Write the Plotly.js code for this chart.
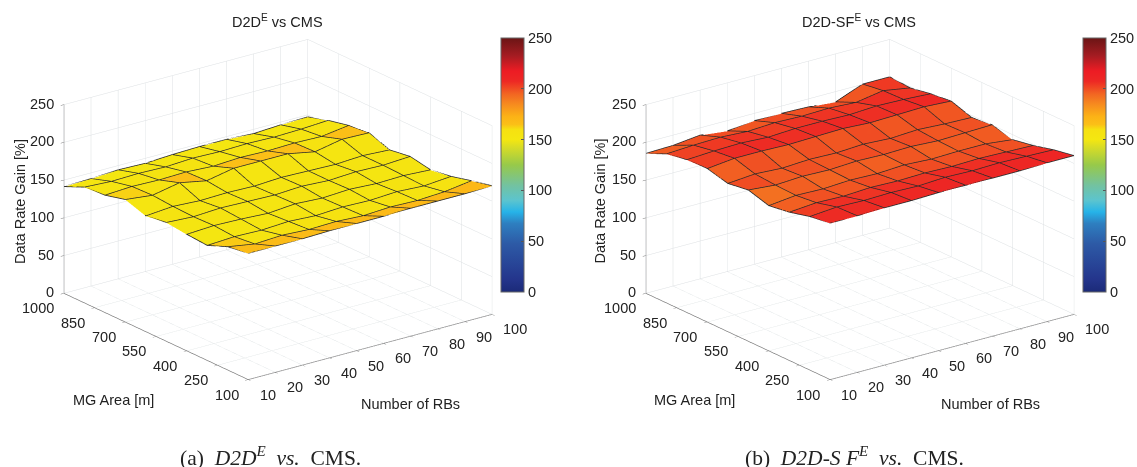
<!DOCTYPE html>
<html><head><meta charset="utf-8">
<script src="https://cdn.plot.ly/plotly-3.0.1.min.js"></script>
<style>html,body{margin:0;padding:0;background:#fff}#c{width:1137px;height:467px}</style></head>
<body><div id="c"></div>
<script>
const numberOfRBs=[10,20,30,40,50,60,70,80,90,100];
const mgArea=[100,200,300,400,500,600,700,800,900,1000];
const gainA=[
[167,167,167,168,168,168,169,169,169,170],
[163,157,159,157,158,156,158,157,159,164],
[152,154,153,155,153,155,154,156,154,157],
[154,156,155,153,156,154,156,154,155,153],
[157,155,157,156,155,157,155,157,156,158],
[153,156,154,155,154,156,155,154,156,154],
[162,158,165,158,165,165,165,158,165,164],
[155,157,156,157,155,157,156,157,156,161],
[153,151,152,151,153,152,153,152,153,155],
[141,142,144,143,145,146,146,144,146,147]];
const gainB=[
[207,207,208,208,209,209,209,209,210,210],
[203,206,205,206,205,207,206,207,206,205],
[196,199,198,200,199,200,199,200,199,198],
[192,196,195,197,196,198,196,197,197,193],
[200,197,199,198,200,199,200,198,199,200],
[196,199,197,199,198,200,198,200,198,197],
[203,207,207,206,207,208,206,207,208,206],
[202,204,205,203,205,205,204,206,205,203],
[197,199,200,198,200,199,200,198,204,198],
[185,186,190,186,190,190,189,186,200,200]];
const zTicks=[0,50,100,150,200,250];
const mgTicks=[100,250,400,550,700,850,1000];
const colorStops=[[0,'#1b2a78'],[0.05,'#24358c'],[0.19,'#2d5aa6'],[0.27,'#2e7fc0'],[0.315,'#26b3e8'],[0.36,'#5bc4cf'],[0.42,'#73c2a0'],[0.5,'#97c94a'],[0.57,'#d8dc26'],[0.6,'#f4e711'],[0.64,'#f6e111'],[0.66,'#fbbf17'],[0.69,'#fcb316'],[0.74,'#f68a1f'],[0.78,'#f26522'],[0.83,'#ed2824'],[0.87,'#ed1c24'],[0.93,'#a51c22'],[1,'#6b1515']];

function meshTrace(g,cbX,scene){
  const xs=[],ys=[],zs=[],I=[],J=[],K=[],C=[];
  g.forEach((row,i)=>row.forEach((v,j)=>{xs.push(numberOfRBs[j]);ys.push(mgArea[i]);zs.push(v);}));
  const n=numberOfRBs.length;
  for(let i=0;i<mgArea.length-1;i++)for(let j=0;j<n-1;j++){
    const a=i*n+j,b=a+1,c=a+n,d=c+1;
    I.push(a,a);J.push(b,d);K.push(d,c);C.push(g[i][j],g[i][j]);
  }
  return {type:'mesh3d',scene,x:xs,y:ys,z:zs,i:I,j:J,k:K,intensity:C,intensitymode:'cell',
    colorscale:colorStops,cmin:0,cmax:250,flatshading:true,hoverinfo:'skip',
    lighting:{ambient:1,diffuse:0,specular:0,roughness:1,fresnel:0},
    colorbar:{x:cbX,xanchor:'left',xref:'paper',y:1-38/467,yanchor:'top',yref:'paper',len:254/467,lenmode:'fraction',
      thickness:23,thicknessmode:'pixels',outlinecolor:'#666',outlinewidth:1,ticks:'inside',ticklen:3,tickcolor:'#555',
      tickvals:zTicks,ticktext:zTicks.map(String),tickfont:{family:'Liberation Sans',size:14.5,color:'#222'},xpad:0,ypad:0}};
}
function gridTrace(g,scene){
  const xs=[],ys=[],zs=[];
  g.forEach((row,i)=>{row.forEach((v,j)=>{xs.push(numberOfRBs[j]);ys.push(mgArea[i]);zs.push(v+0.4);});xs.push(null);ys.push(null);zs.push(null);});
  numberOfRBs.forEach((r,j)=>{mgArea.forEach((m,i)=>{xs.push(r);ys.push(m);zs.push(g[i][j]+0.4);});xs.push(null);ys.push(null);zs.push(null);});
  return {type:'scatter3d',scene,mode:'lines',x:xs,y:ys,z:zs,line:{color:'#2a2a2a',width:1.6},hoverinfo:'skip',showlegend:false};
}
const tickFont={family:'Liberation Sans',size:14.5,color:'#222'};
const axisBase={showbackground:false,gridcolor:'#dcdfe2',gridwidth:1,showline:true,linecolor:'#777',linewidth:1.5,zeroline:false,
  ticks:'outside',ticklen:4,tickcolor:'#777',showspikes:false,showticklabels:false,title:{text:''}};
function tickLabels(){
  const a=[];
  numberOfRBs.forEach(v=>a.push({x:v,y:100,z:0,text:String(v),showarrow:false,xanchor:'left',yanchor:'middle',xshift:9,yshift:-15,font:tickFont}));
  mgTicks.forEach(v=>a.push({x:10,y:v,z:0,text:String(v),showarrow:false,xanchor:'right',yanchor:'middle',xshift:-8,yshift:-15,font:tickFont}));
  zTicks.forEach(v=>a.push({x:10,y:1000,z:v,text:String(v),showarrow:false,xanchor:'right',yanchor:'middle',xshift:-8,yshift:1,font:tickFont}));
  return a;
}
function sceneDef(x0,x1){return {
  domain:{x:[x0/1137,x1/1137],y:[1-419/467,1]},
  aspectmode:'manual',aspectratio:{x:1.459,y:1.459,z:0.963},
  camera:{eye:{x:-0.564*1.9,y:-0.746*1.9,z:0.354*1.9},center:{x:0,y:0,z:0},up:{x:0,y:0,z:1},projection:{type:'orthographic'}},
  xaxis:Object.assign({},axisBase,{range:[10,100],tickvals:numberOfRBs}),
  yaxis:Object.assign({},axisBase,{range:[100,1000],tickvals:mgTicks}),
  zaxis:Object.assign({},axisBase,{range:[0,250],tickvals:zTicks}),
  annotations:tickLabels()
};}
function ann(x,y,text,extra){return Object.assign({xref:'paper',yref:'paper',x:x/1137,y:1-y/467,text,showarrow:false,xanchor:'center',yanchor:'middle',font:{family:'Liberation Sans',size:14.5,color:'#222'}},extra||{});}
const capFont={family:'Liberation Serif',size:21.5,color:'#222'};
const layout={width:1137,height:467,margin:{l:0,r:0,t:0,b:0},paper_bgcolor:'#fff',showlegend:false,
 scene:sceneDef(3.5,553.5),scene2:sceneDef(585.5,1135.5),
 annotations:[
  ann(278,21,'D2D<sup>E</sup> vs CMS'),ann(860,21,'D2D-SF<sup>E</sup> vs CMS'),
  ann(20,201,'Data Rate Gain [%]',{textangle:-90}),
  ann(601,201,'Data Rate Gain [%]',{textangle:-90}),
  ann(114,400,'MG Area [m]'),ann(411,404,'Number of RBs'),ann(695,400,'MG Area [m]'),ann(991,404,'Number of RBs'),
  ann(271,456,'(a)  <i>D2D<sup>E</sup>  vs.</i>  CMS.',{font:capFont}),ann(855,456,'(b)  <i>D2D-S F<sup>E</sup>  vs.</i>  CMS.',{font:capFont})
 ]};
Plotly.newPlot('c',[meshTrace(gainA,501/1137,'scene'),gridTrace(gainA,'scene'),meshTrace(gainB,1083/1137,'scene2'),gridTrace(gainB,'scene2')],layout,{displayModeBar:false});
</script></body></html>
